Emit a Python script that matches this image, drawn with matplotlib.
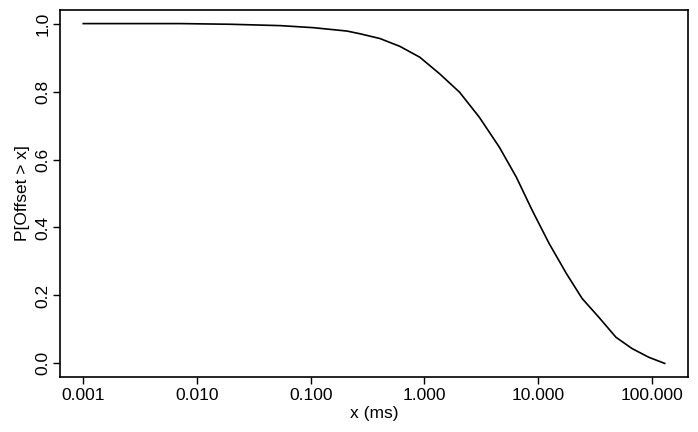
import matplotlib
matplotlib.use("Agg")
import matplotlib.pyplot as plt

plt.rcParams['font.family'] = ['Liberation Sans', 'DejaVu Sans']

# Survival curve P[Offset > x]
offset_ms = [0.001, 0.0072, 0.0198, 0.0542, 0.1054, 0.209, 0.272, 0.407, 0.609,
             0.912, 1.365, 2.04, 3.05, 4.57, 6.44, 8.89, 12.5, 17.7, 24.4,
             34.4, 48.4, 66.8, 94.2, 130.0]
p_greater = [1.0, 1.0, 0.998, 0.994, 0.988, 0.978, 0.970, 0.956, 0.933,
             0.901, 0.852, 0.798, 0.724, 0.636, 0.548, 0.450, 0.353, 0.265, 0.191,
             0.135, 0.077, 0.044, 0.018, 0.0]

x_ticks = [0.001, 0.01, 0.1, 1, 10, 100]
x_tick_labels = ["0.001", "0.010", "0.100", "1.000", "10.000", "100.000"]
y_ticks = [0.0, 0.2, 0.4, 0.6, 0.8, 1.0]
y_tick_labels = ["0.0", "0.2", "0.4", "0.6", "0.8", "1.0"]

fig = plt.figure(figsize=(6.98, 4.32), dpi=100)
ax = fig.add_axes([60 / 698, 1 - 377 / 432, 628 / 698, 367 / 432])

ax.plot(offset_ms, p_greater, color='black', lw=1.2)
ax.set_xscale('log')
ax.margins(x=0.04, y=0.04)

ax.set_xticks(x_ticks)
ax.set_xticklabels(x_tick_labels)
ax.minorticks_off()
ax.set_yticks(y_ticks)
ax.set_yticklabels(y_tick_labels, rotation=90, va='center')

ax.tick_params(axis='both', labelsize=12.5, length=5, width=1, color='black')
ax.tick_params(axis='x', pad=3)
ax.tick_params(axis='y', pad=2)
for s in ax.spines.values():
    s.set_linewidth(1.2)

ax.set_xlabel("x (ms)", fontsize=12.5, labelpad=2)
ax.set_ylabel("P[Offset > x]", fontsize=12.5, labelpad=4)

fig.savefig("out.png", dpi=100)
